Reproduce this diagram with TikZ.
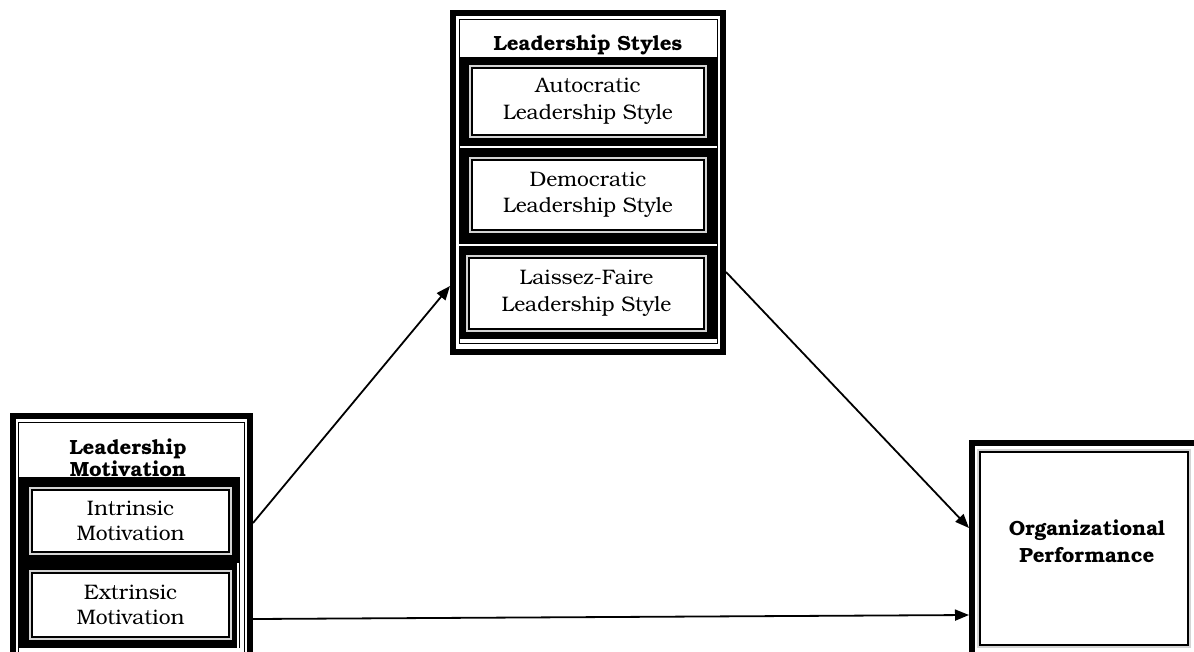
\documentclass[tikz,border=0pt]{standalone}
\usepackage{fontspec}
\setmainfont{TeX Gyre Bonum}
\usetikzlibrary{arrows.meta}
\definecolor{FrameGrey}{HTML}{D4D4D4}

\begin{document}
\begin{tikzpicture}[x=1pt,y=-1pt,>=Triangle]
\tikzset{
  groupbox/.style={draw=black,line width=6pt,inner sep=0pt},
  inline/.style={draw=black,line width=1.6pt},
  cell/.style={draw=black,line width=1.8pt,fill=white,preaction={draw=FrameGrey,line width=5.5pt},
    align=center,inner sep=0pt,font=\fontsize{21}{26.5}\selectfont},
  heading/.style={font=\bfseries\fontsize{20.5}{22}\selectfont,align=center},
  link/.style={black,line width=1.8pt,-{Triangle[length=14pt,width=11pt]}}
}
\path[use as bounding box,fill=white] (0,0) rectangle (1194,651);

% leadership styles
\node[groupbox,minimum width=270pt,minimum height=339pt] (styles) at (588,182.5) {};
\draw[inline] (459.5,19.5) rectangle (717.5,343.5);
\fill[black] (460,57) rectangle (717,339);
\draw[white,line width=2.5pt] (460,147)--(717,147);
\draw[white,line width=2.5pt] (457,245)--(717,245);
\node[heading] (stylestitle) at (588,45) {Leadership Styles};
\node[cell,minimum width=232pt,minimum height=67pt] (autocratic) at (588,101.5) {Autocratic\\Leadership Style};
\node[cell,minimum width=232pt,minimum height=70pt] (democratic) at (588,195) {Democratic\\Leadership Style};
\node[cell,minimum width=235pt,minimum height=71pt] (laissez) at (586.5,293.5) {Laissez-Faire\\Leadership Style};

% leadership motivation
\node[groupbox,minimum width=237pt,minimum height=249pt] (motivation) at (131.5,540.5) {};
\draw[inline] (18.5,422.5) rectangle (244.5,656);
\fill[black] (19,477) rectangle (240,648);
\draw[white,line width=1.5pt] (238,563)--(238,648);
\node[heading] (motivtitle) at (128,458) {Leadership\\Motivation};
\node[cell,minimum width=197pt,minimum height=62pt,font=\fontsize{21}{25}\selectfont] (intrinsic) at (130.5,521) {Intrinsic\\Motivation};
\node[cell,minimum width=197pt,minimum height=64pt,font=\fontsize{21}{25}\selectfont] (extrinsic) at (130.5,605) {Extrinsic\\Motivation};

% organizational performance
\node[groupbox,minimum width=231pt,minimum height=220pt] (performance) at (1087.5,553) {};
\node[cell,minimum width=208pt,minimum height=193pt] (perfinner) at (1084,548.5) {};
\node[heading,font=\bfseries\fontsize{20.5}{27}\selectfont] (perftitle) at (1087,541) {Organizational\\Performance};

% paths
\draw[link] ([yshift=17.5pt]motivation.east) -- ([yshift=-103.5pt]styles.west);
\draw[link] ([yshift=-89.5pt]styles.east) -- ([yshift=25pt]performance.west);
\draw[link] ([yshift=-78.5pt]motivation.east) -- ([yshift=-62pt]performance.west);
\end{tikzpicture}
\end{document}
